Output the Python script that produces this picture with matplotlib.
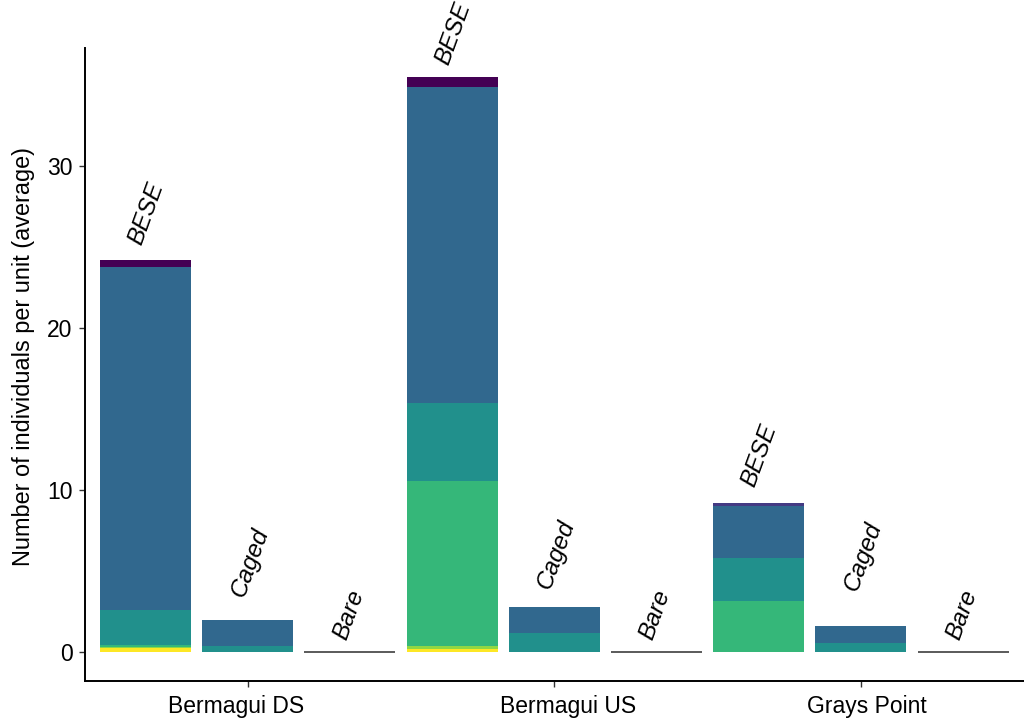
import numpy as np
import matplotlib
matplotlib.use("Agg")
import matplotlib.pyplot as plt
from matplotlib.transforms import ScaledTranslation

plt.rcParams['font.family'] = ['Liberation Sans', 'DejaVu Sans']

# Sites and treatments (one bar per site x treatment)
sites = ["Bermagui DS", "Bermagui US", "Grays Point"]
treatments = ["BESE", "Caged", "Bare"]

# Mean individuals per unit for each taxon, in order:
# DS-BESE, DS-Caged, DS-Bare, US-BESE, US-Caged, US-Bare, GP-BESE, GP-Caged, GP-Bare
taxon1 = [0.43, 0.00, 0.0, 0.60, 0.00, 0.0, 0.00, 0.00, 0.0]
taxon2 = [0.00, 0.00, 0.0, 0.00, 0.00, 0.0, 0.16, 0.00, 0.0]
taxon3 = [21.16, 1.60, 0.0, 19.51, 1.57, 0.0, 3.22, 1.03, 0.0]
taxon4 = [2.16, 0.36, 0.0, 4.81, 1.18, 0.0, 2.62, 0.56, 0.0]
taxon5 = [0.10, 0.00, 0.0, 10.18, 0.00, 0.0, 3.15, 0.00, 0.0]
taxon6 = [0.10, 0.00, 0.0, 0.18, 0.00, 0.0, 0.00, 0.00, 0.0]
taxon7 = [0.22, 0.00, 0.0, 0.18, 0.00, 0.0, 0.00, 0.00, 0.0]

# Height at which each treatment label starts
label_y = [25.03, 3.32, 0.67, 36.14, 3.81, 0.67, 10.10, 3.69, 0.67]

layers = [taxon7, taxon6, taxon5, taxon4, taxon3, taxon2, taxon1]  # bottom -> top
colors = ["#FDE725", "#8FD744", "#35B779", "#21908C", "#31688E", "#443A83", "#440154"]

fig = plt.figure(figsize=(10.24, 7.22), dpi=100)
ax = fig.add_axes([0.083, 0.0568, 0.917, 0.8767])

n = len(sites) * len(treatments)
x = np.arange(n)
width = 0.89
bottom = np.zeros(n)
for vals, col in zip(layers, colors):
    v = np.array(vals)
    ax.bar(x, v, width, bottom=bottom, color=col, edgecolor="none", zorder=2)
    bottom += v

# empty treatments shown as a flat line at zero
for xi, tot in zip(x, bottom):
    if tot == 0:
        ax.hlines(0, xi - width / 2, xi + width / 2, color="#5a5a5a", lw=1.4, zorder=3)

# treatment labels above each bar
shift = ScaledTranslation(-4 / 100, 0, fig.dpi_scale_trans)
for i, xi in enumerate(x):
    ax.text(xi, label_y[i], treatments[i % 3], rotation=70, rotation_mode="anchor",
            ha="left", va="baseline", fontsize=17.5, fontstyle="italic",
            transform=ax.transData + shift)

ax.set_xlim(-0.592, 8.596)
ax.set_ylim(-1.80, 37.25)
ax.set_yticks([0, 10, 20, 30])
ax.set_xticks([1, 4, 7])
ax.set_xticklabels(sites)
ax.set_ylabel("Number of individuals per unit (average)", fontsize=16.9)
ax.yaxis.set_label_coords(-0.053, 0.513)

for s in ["top", "right"]:
    ax.spines[s].set_visible(False)
for s in ["left", "bottom"]:
    ax.spines[s].set_linewidth(1.4)
    ax.spines[s].set_color("black")
ax.tick_params(axis="both", labelsize=16.5, length=4, width=1.0, colors="#333333",
               labelcolor="black")
ax.tick_params(axis="x", pad=6)
ax.tick_params(axis="y", pad=5)

# fine horizontal placement of the site names
for lab, dx in zip(ax.get_xticklabels(), [-12, 14, 6]):
    lab.set_transform(lab.get_transform() + ScaledTranslation(dx / 100, 0, fig.dpi_scale_trans))

fig.savefig("out.png", dpi=100, facecolor="white")
